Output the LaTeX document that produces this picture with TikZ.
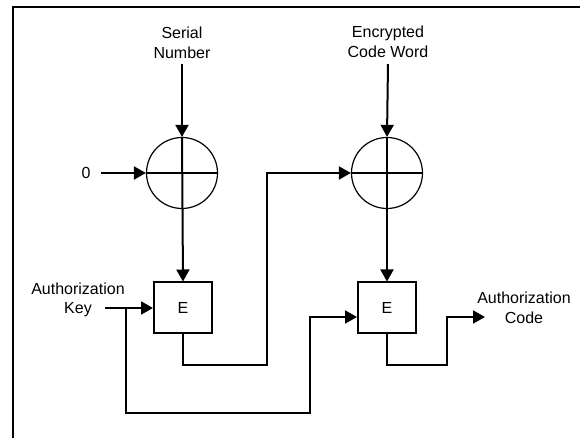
\documentclass[tikz,border=0pt]{standalone}
\usepackage{fontspec}
\setmainfont{Liberation Sans}
\usetikzlibrary{arrows.meta, positioning, calc}

\begin{document}
\begin{tikzpicture}[
    x=0.5pt, y=-0.5pt,
    label/.style={align=center, inner sep=0pt, font=\fontsize{8}{9.75}\selectfont},
    xorgate/.style={circle, draw, line width=0.6pt, minimum size=35.5pt, inner sep=0pt},
    box/.style={rectangle, draw, line width=1pt, minimum width=29pt, minimum height=25.5pt, inner sep=0pt, font=\fontsize{8}{9.75}\selectfont},
    arrow/.style={-{Triangle[length=6pt, width=6.5pt]}, line width=1pt},
    wire/.style={line width=1pt}
]
\useasboundingbox (0,0) rectangle (580,438);
\draw[wire] (13,438) -- (13,7) -- (580,7);

\node[label] (serial) at (182,43) {Serial\\Number};
\node[label] (codeword) at (388,42) {Encrypted\\Code Word};
\node[xorgate] (xor1) at (182,173) {};
\node[xorgate] (xor2) at (387,173) {};
\node[label] (zero) at (86,173) {0};
\node[box] (enc1) at (183,308) {E};
\node[box] (enc2) at (387,308) {E};
\node[label] (authkey) at (78,300) {Authorization\\Key};
\node[label] (authcode) at (524,308) {Authorization\\Code};

\coordinate (keyin) at (105,308);
\coordinate (split) at (126,308);
\coordinate (turn1) at (267,365);
\coordinate (turn2) at (310,413);
\coordinate (turn3) at (447,365);
\coordinate (codeout) at (485,317);

\draw[wire] (xor1.west) -- (xor1.east);
\draw[wire] (xor2.west) -- (xor2.east);
\draw[arrow] ($(serial.south)+(0,5)$) -- (xor1.north);
\draw[arrow] ($(codeword.south)+(0,6)$) -- (xor2.north);
\draw[arrow] ($(zero.east)+(10,0)$) -- (xor1.west);
\draw[arrow] (xor1.north) -- (enc1.north);
\draw[arrow] (xor2.north) -- (enc2.north);
\draw[arrow] (keyin) -- (enc1.west);
\draw[arrow] (enc1.south) |- (turn1) |- (xor2.west);
\draw[arrow] (split) |- (turn2) |- ($(enc2.west)+(0,9)$);
\draw[arrow] (enc2.south) |- (turn3) |- (codeout);
\end{tikzpicture}
\end{document}
